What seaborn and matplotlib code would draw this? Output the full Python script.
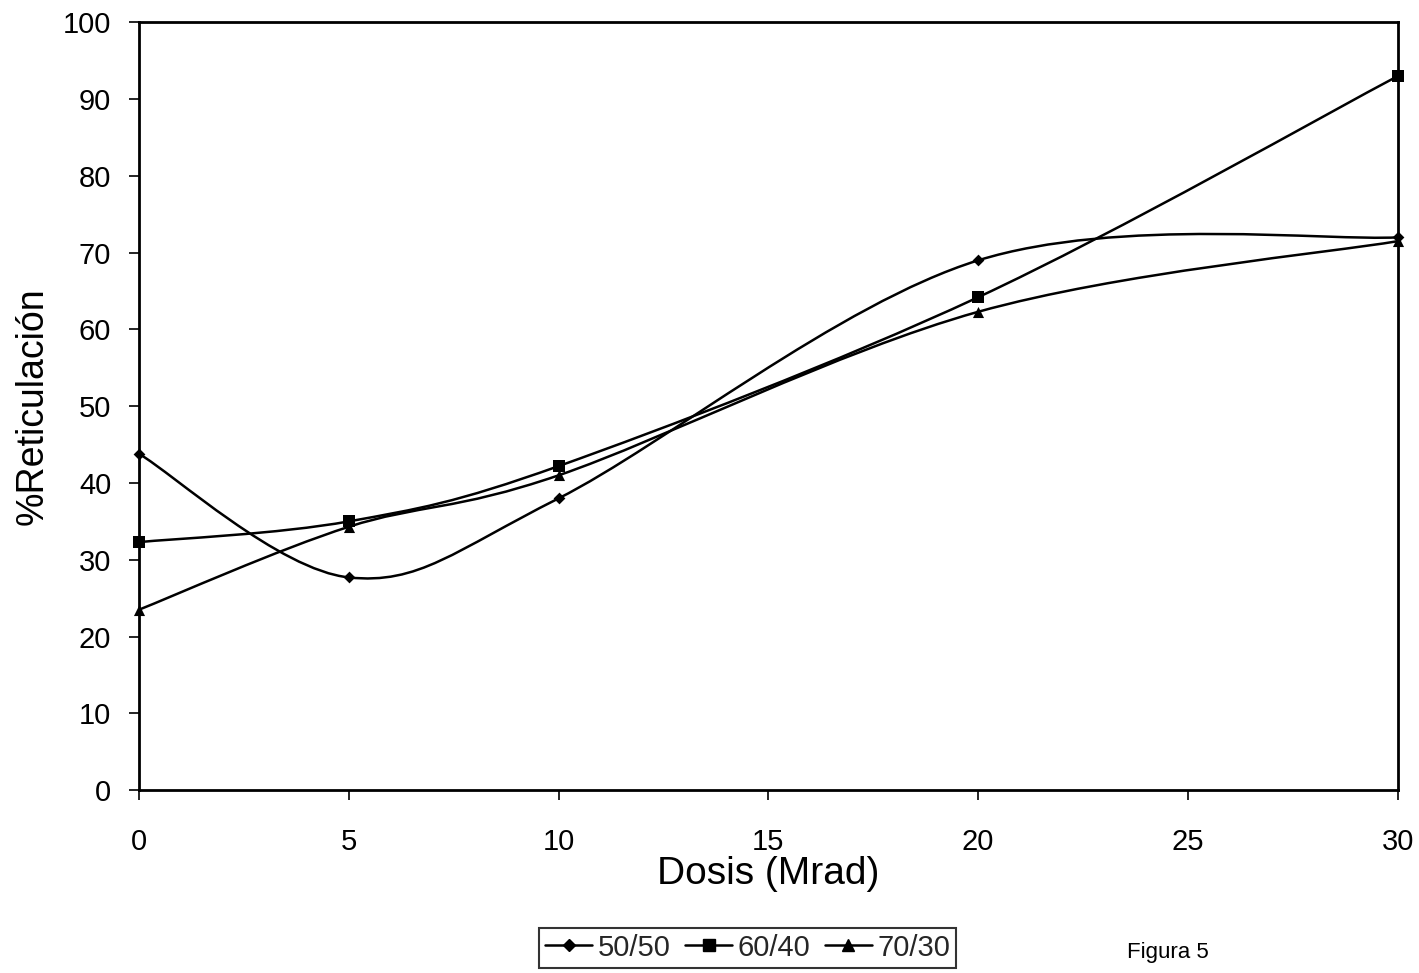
import numpy as np
import matplotlib
matplotlib.use("Agg")
import matplotlib.pyplot as plt
import seaborn as sns
from matplotlib.path import Path
from matplotlib.patches import PathPatch
from matplotlib.lines import Line2D

sns.set_theme(style="white")
plt.rcParams['font.family'] = ['Liberation Sans', 'DejaVu Sans']

dosis = [0, 5, 10, 20, 30]
s_50_50 = [43.8, 27.7, 38.0, 69.0, 72.0]
s_60_40 = [32.3, 35.0, 42.2, 64.2, 93.0]
s_70_30 = [23.5, 34.3, 41.0, 62.3, 71.5]
series_names = ["50/50", "60/40", "70/30"]
markers = ["D", "s", "^"]
marker_sizes = [6, 8, 8]
x_ticks = [0, 5, 10, 15, 20, 25, 30]
y_ticks = [0, 10, 20, 30, 40, 50, 60, 70, 80, 90, 100]

fig = plt.figure(figsize=(14.19, 9.73), dpi=100)
ax = fig.add_axes([0.098, 0.188, 0.887, 0.789])


def smooth_path(ax, xs, ys):
    # Bezier (Excel-style smoothing) built from the data points via library transforms
    pts = ax.transData.transform(np.column_stack([xs, ys]))
    n = len(pts)
    verts = [pts[0]]
    codes = [Path.MOVETO]
    for i in range(n - 1):
        p0 = pts[i - 1] if i > 0 else pts[i]
        p1 = pts[i]
        p2 = pts[i + 1]
        p3 = pts[i + 2] if i + 2 < n else pts[i + 1]
        c1 = p1 + (p2 - p0) / 6.0
        c2 = p2 - (p3 - p1) / 6.0
        verts += [c1, c2, p2]
        codes += [Path.CURVE4] * 3
    inv = ax.transData.inverted()
    return Path(inv.transform(np.array(verts)), codes)


ax.set_xlim(0, 30)
ax.set_ylim(0, 100)
ax.set_xticks(x_ticks)
ax.set_yticks(y_ticks)

all_series = [s_50_50, s_60_40, s_70_30]
handles = []
for name, vals, m, ms in zip(series_names, all_series, markers, marker_sizes):
    sns.scatterplot(x=dosis, y=vals, ax=ax, marker=m, s=ms ** 2, color="black",
                    edgecolor="black", linewidth=0, zorder=3, clip_on=False)
    handles.append(Line2D([], [], color="black", lw=1.8, marker=m, markersize=ms,
                          label=name))

fig.canvas.draw()
for vals in all_series:
    p = smooth_path(ax, dosis, vals)
    ax.add_patch(PathPatch(p, fill=False, edgecolor="black", lw=1.8, zorder=2,
                           clip_on=False))

for sp in ax.spines.values():
    sp.set_visible(True)
    sp.set_color("black")
    sp.set_linewidth(2)

ax.tick_params(axis="both", direction="out", length=7, width=1.2, color="black",
               labelsize=21, labelcolor="black", bottom=True, left=True)
ax.tick_params(axis="x", pad=20)
ax.tick_params(axis="y", pad=13)
ax.set_xlabel("Dosis (Mrad)", fontsize=28, color="black", labelpad=0)
ax.set_ylabel("%Reticulación", fontsize=27, color="black", labelpad=9)
ax.grid(False)

leg = fig.legend(handles=handles, loc="center", bbox_to_anchor=(0.527, 0.026),
                 ncol=3, fontsize=21, frameon=True, fancybox=False,
                 edgecolor="black", handlelength=1.6, handletextpad=0.2,
                 columnspacing=0.5, borderpad=0.2, borderaxespad=0)
leg.get_frame().set_linewidth(1.5)

fig.text(0.823, 0.021, "Figura 5", fontsize=16, color="black", ha="center",
         va="center")

fig.savefig("out.png", dpi=100, facecolor="white")
